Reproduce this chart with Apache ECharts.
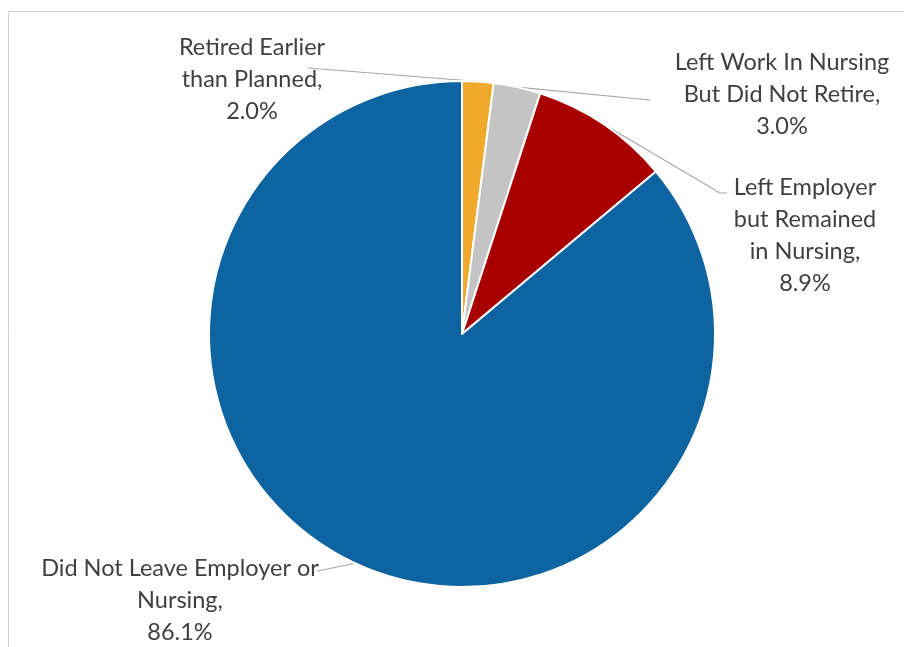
<!DOCTYPE html>
<html>
<head>
<meta charset="utf-8">
<script src="https://cdn.jsdelivr.net/npm/echarts@6/dist/echarts.min.js"></script>
<style>html,body{margin:0;padding:0;background:#fff}#c{width:904px;height:647px}</style>
</head>
<body>
<div id="c"></div>
<script>
const categories = ['Retired Earlier than Planned', 'Left Work In Nursing But Did Not Retire', 'Left Employer but Remained in Nursing', 'Did Not Leave Employer or Nursing'];
const labelTexts = ['Retired Earlier\nthan Planned,', 'Left Work In Nursing\nBut Did Not Retire,', 'Left Employer\nbut Remained\nin Nursing,', 'Did Not Leave Employer or\nNursing,'];
const values = [2.0, 3.0, 8.9, 86.1];
const colors = ['#F0A92A', '#C4C4C4', '#A80000', '#0E64A0'];

// label placement (text block centre x, top y) and leader line end
const labelPos = [
  {x: 252, y: 31, lx: 308, ly: 68, hx: 308},
  {x: 782, y: 46, lx: 650, ly: 100, hx: 650},
  {x: 805, y: 171, lx: 720, ly: 193, hx: 727},
  {x: 180, y: 552, lx: 318, ly: 571}
];

const chart = echarts.init(document.getElementById('c'));
chart.setOption({
  animation: false,
  backgroundColor: '#fff',
  graphic: [{
    type: 'rect', shape: {x: 8.5, y: 11.5, width: 1000, height: 700},
    style: {fill: 'none', stroke: '#d0d0d0', lineWidth: 1}
  }],
  series: [{
    type: 'pie',
    center: [462, 334],
    radius: [0, 253],
    startAngle: 90,
    clockwise: true,
    avoidLabelOverlap: false,
    itemStyle: {borderColor: '#fff', borderWidth: 2},
    label: {
      show: true,
      position: 'outside',
      fontFamily: 'Lato',
      fontSize: 23.5,
      lineHeight: 32,
      color: '#404040',
      align: 'center',
      formatter: p => labelTexts[p.dataIndex] + '\n' + p.value.toFixed(1) + '%'
    },
    labelLine: {show: true, length: 10, length2: 10, lineStyle: {color: '#a6a6a6', width: 1.2}},
    labelLayout: function (params) {
      const lp = labelPos[params.dataIndex];
      const start = params.labelLinePoints ? params.labelLinePoints[0] : [lp.lx, lp.ly];
      let pts;
      if (params.dataIndex === 3) {
        pts = [start, [lp.lx, lp.ly], [lp.lx - 1, lp.ly]];
      } else {
        pts = [start, [lp.lx, lp.ly], [lp.hx, lp.ly]];
      }
      return {
        x: lp.x, y: lp.y, align: 'center', verticalAlign: 'top',
        labelLinePoints: pts
      };
    },
    data: categories.map((c, i) => ({name: c, value: values[i], itemStyle: {color: colors[i]}}))
  }]
});
</script>
</body>
</html>
